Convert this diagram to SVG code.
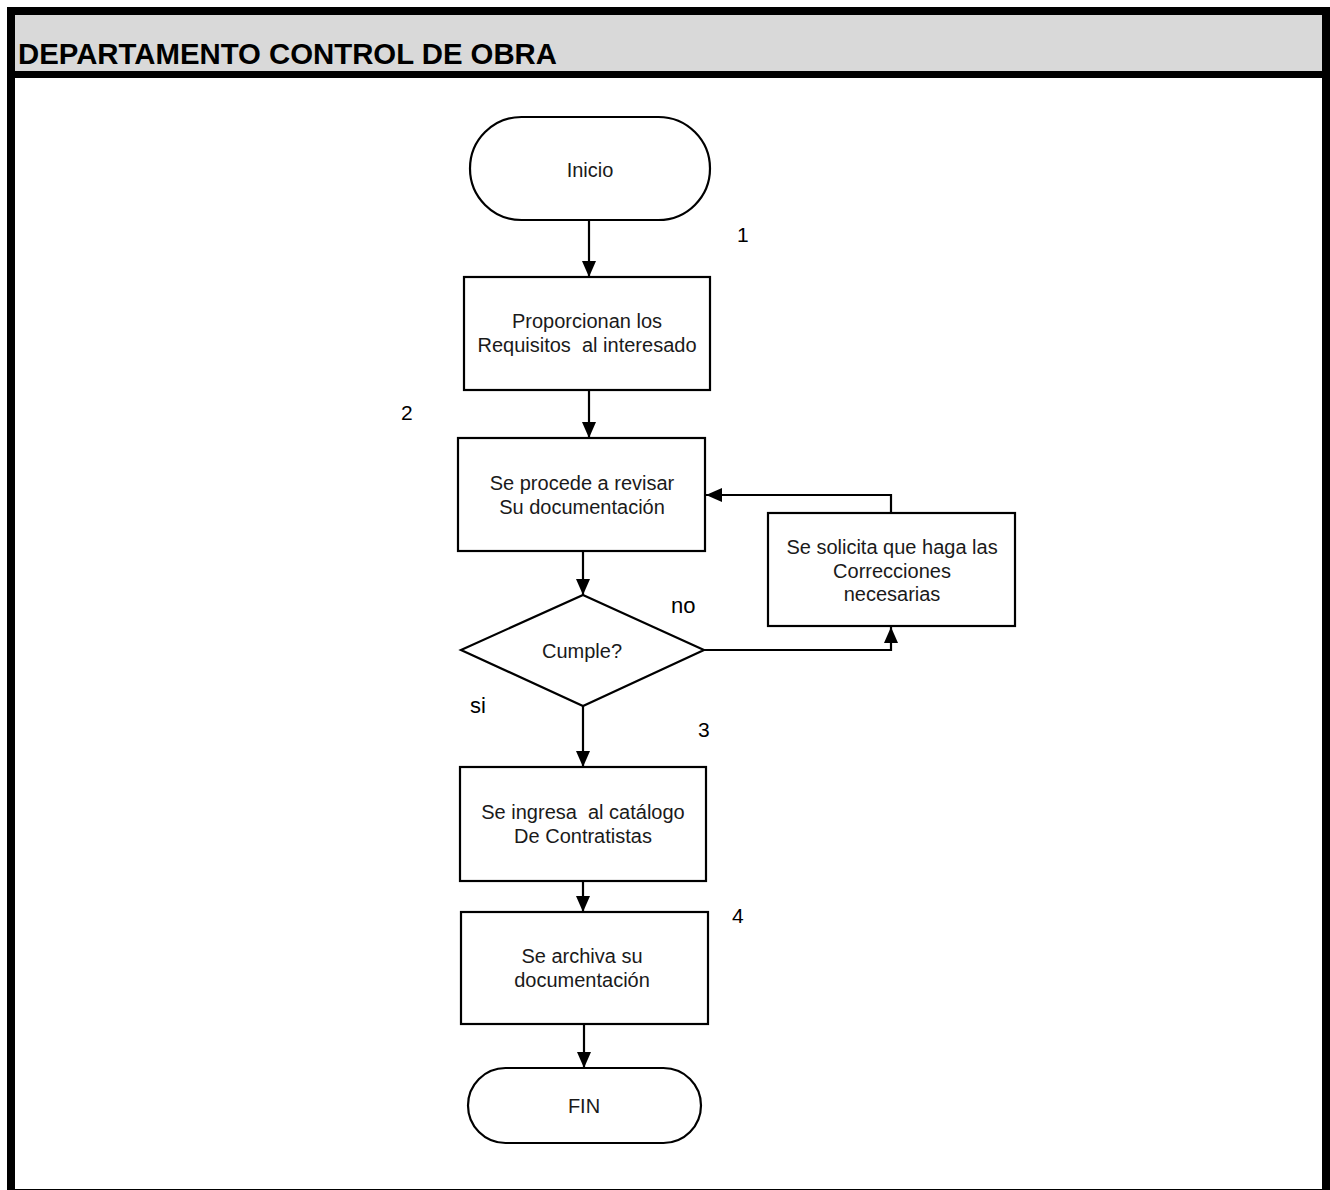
<svg xmlns="http://www.w3.org/2000/svg" width="1330" height="1190" viewBox="0 0 1330 1190">
<style>
.box{fill:#fff;stroke:#000;stroke-width:2.2}
.t{font-family:"Liberation Sans",Arial,sans-serif;font-size:20px;fill:#1a1a1a;text-anchor:middle;white-space:pre}
.n{font-family:"Liberation Sans",Arial,sans-serif;font-size:21px;fill:#000}
.lbl{font-family:"Liberation Sans",Arial,sans-serif;font-size:22px;fill:#000}
.c{fill:none;stroke:#000;stroke-width:2.2}
</style>
<defs>
<marker id="ah" markerUnits="userSpaceOnUse" markerWidth="17" markerHeight="14" refX="16" refY="7" orient="auto">
<path d="M0,0 L16,7 L0,14 z" fill="#000"/>
</marker>
</defs>
<rect x="0" y="0" width="1330" height="1190" fill="#fff"/>
<g id="frame">
<rect x="15" y="15" width="1307" height="56" fill="#d9d9d9"/>
<rect x="7" y="7" width="1323" height="8" fill="#000"/>
<rect x="7" y="7" width="8" height="1183" fill="#000"/>
<rect x="1322" y="7" width="8" height="1183" fill="#000"/>
<rect x="7" y="71" width="1323" height="7" fill="#000"/>
<line x1="7" y1="1189.5" x2="1330" y2="1189.5" stroke="#000" stroke-width="1"/>
<text x="18" y="64" font-family="Liberation Sans,Arial,sans-serif" font-size="29" font-weight="bold" fill="#000" textLength="539" lengthAdjust="spacingAndGlyphs">DEPARTAMENTO CONTROL DE OBRA</text>
</g>
<g id="connectors">
<path class="c" d="M589,220 V277" marker-end="url(#ah)"/>
<path class="c" d="M589,390 V438" marker-end="url(#ah)"/>
<path class="c" d="M583,551 V595" marker-end="url(#ah)"/>
<path class="c" d="M583,706 V767" marker-end="url(#ah)"/>
<path class="c" d="M583,881 V912" marker-end="url(#ah)"/>
<path class="c" d="M584,1024 V1068" marker-end="url(#ah)"/>
<path class="c" d="M704,650 H891 V627" marker-end="url(#ah)"/>
<path class="c" d="M891,513 V495 H706" marker-end="url(#ah)"/>
</g>
<g id="inicio">
<rect class="box" x="470" y="117" width="240" height="103" rx="51.5" ry="51.5"/>
<text class="t" x="590" y="177">Inicio</text>
</g>
<g id="proporcionan">
<rect class="box" x="464" y="277" width="246" height="113"/>
<text class="t" x="587" y="328">Proporcionan los</text>
<text class="t" x="587" y="352" xml:space="preserve">Requisitos  al interesado</text>
</g>
<g id="revisar">
<rect class="box" x="458" y="438" width="247" height="113"/>
<text class="t" x="582" y="490">Se procede a revisar</text>
<text class="t" x="582" y="514">Su documentación</text>
</g>
<g id="cumple">
<polygon class="box" points="583,595 704,650 583,706 461,650"/>
<text class="t" x="582" y="658">Cumple?</text>
</g>
<g id="correcciones">
<rect class="box" x="768" y="513" width="247" height="113"/>
<text class="t" x="892" y="554">Se solicita que haga las</text>
<text class="t" x="892" y="577.5">Correcciones</text>
<text class="t" x="892" y="601">necesarias</text>
</g>
<g id="catalogo">
<rect class="box" x="460" y="767" width="246" height="114"/>
<text class="t" x="583" y="819" xml:space="preserve">Se ingresa  al catálogo</text>
<text class="t" x="583" y="843">De Contratistas</text>
</g>
<g id="archiva">
<rect class="box" x="461" y="912" width="247" height="112"/>
<text class="t" x="582" y="963">Se archiva su</text>
<text class="t" x="582" y="987">documentación</text>
</g>
<g id="fin">
<rect class="box" x="468" y="1068" width="233" height="75" rx="37.5" ry="37.5"/>
<text class="t" x="584" y="1113">FIN</text>
</g>
<g id="labels">
<text class="n" x="737" y="242">1</text>
<text class="n" x="401" y="420">2</text>
<text class="n" x="698" y="737">3</text>
<text class="n" x="732" y="923">4</text>
<text class="lbl" x="671" y="613">no</text>
<text class="lbl" x="470" y="713">si</text>
</g>
</svg>
